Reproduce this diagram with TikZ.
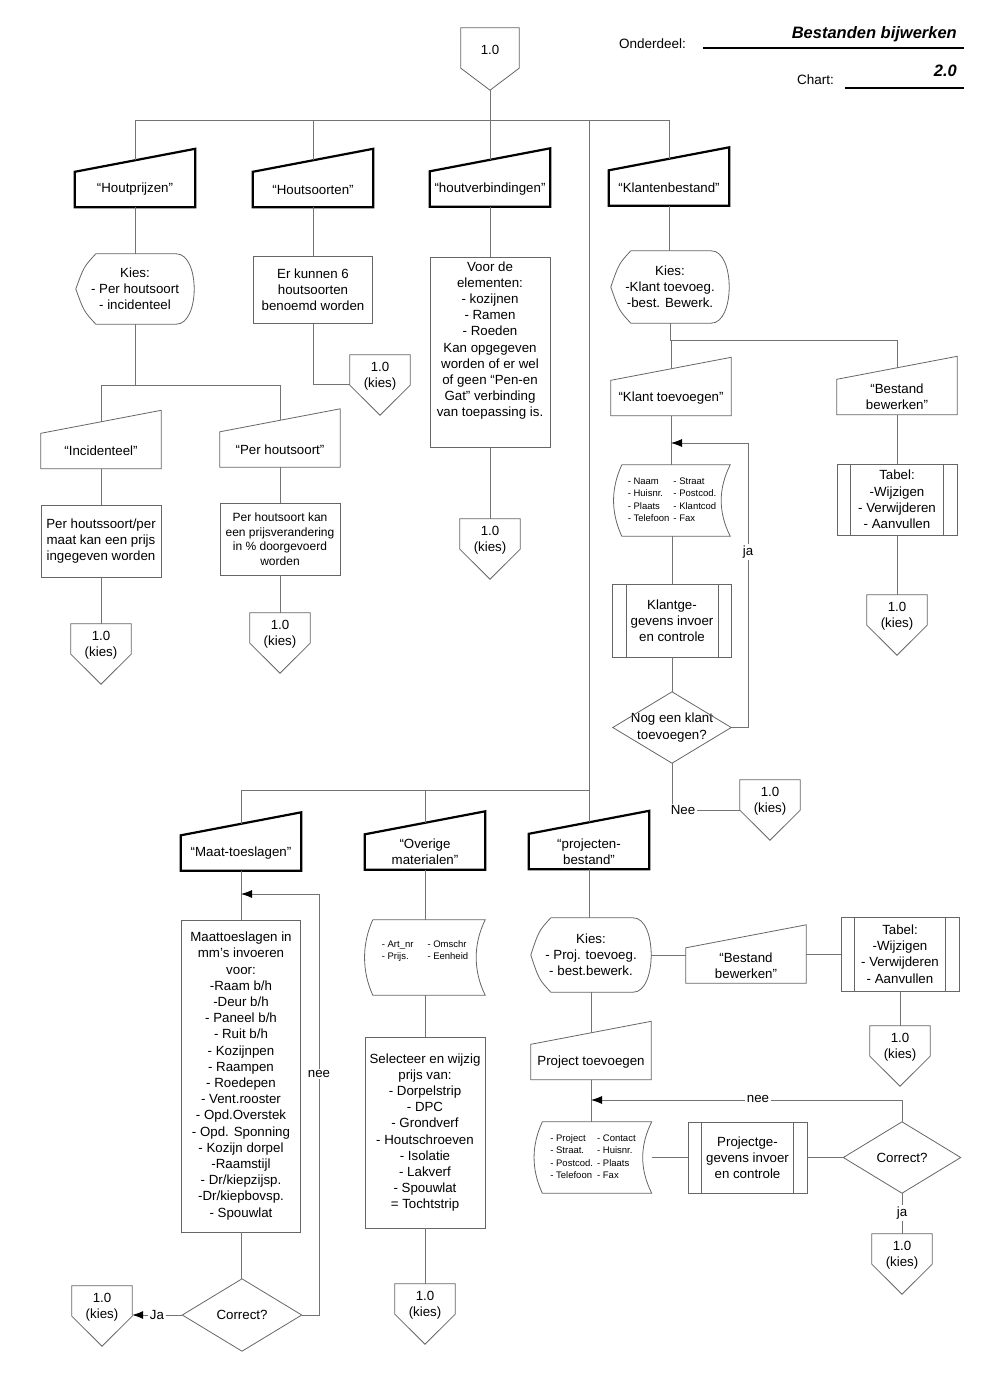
\documentclass[tikz,border=0pt]{standalone}
\usepackage{fontspec}
\setmainfont{Liberation Sans}
\usetikzlibrary{arrows.meta,calc}

\tikzset{
  plain/.style={inner sep=0pt, align=center, font=\fontsize{13.3}{16.2}\selectfont, text=black},
  txt/.style={inner sep=0pt, text=black},
  small/.style={font=\fontsize{9.5}{12.3}\selectfont},
  boxs/.style={plain, draw=black!60, line width=0.8pt},
  conn/.style={draw=black!55, line width=0.8pt},
  shapeline/.style={draw=black!60, line width=0.8pt},
  heavy/.style={draw=black, line width=2.2pt, line join=miter},
  arr/.style={conn, -{Latex[length=11pt,width=8pt,color=black]}},
  lbl/.style={plain, inner sep=1.5pt},
  lblw/.style={plain, fill=white, inner sep=1.5pt},
  hdr/.style={inner sep=0pt, font=\fontsize{13.5}{16}\selectfont},
  hdrb/.style={inner sep=0pt, font=\fontsize{16.5}{18}\selectfont\bfseries\itshape},
  hline/.style={draw=black, line width=1.3pt},
}

% manual input: name, centre, text
\newcommand\fcMI[4][shapeline]{%
  \node[plain, minimum width=120pt, minimum height=35pt] (#2) at (#3) {#4};
  \draw[#1] (#2.south west) -- (#2.north west) -- ([yshift=23pt]#2.north east) -- (#2.south east) -- cycle;
  \coordinate (#2-t) at ([yshift=11.5pt]#2.north);
}
% display shape
\newcommand\fcDISP[5]{%
  \node[plain, minimum width=#3pt, minimum height=#4pt] (#1) at (#2) {#5};
  \draw[shapeline] ([xshift=20pt]#1.north west) -- ([xshift=-18pt]#1.north east)
    .. controls ([xshift=6pt]#1.north east) and ([xshift=6pt]#1.south east) .. ([xshift=-18pt]#1.south east)
    -- ([xshift=20pt]#1.south west)
    .. controls ([xshift=8pt,yshift=13pt]#1.south west) .. (#1.west)
    .. controls ([xshift=8pt,yshift=-13pt]#1.north west) .. ([xshift=20pt]#1.north west) -- cycle;
}
% stored data shape
\newcommand\fcSD[4]{%
  \node[plain, minimum width=#3pt, minimum height=#4pt] (#1) at (#2) {};
  \draw[shapeline] ([xshift=8pt]#1.north west) -- (#1.north east)
    .. controls ([xshift=-12pt,yshift=-24pt]#1.north east) and ([xshift=-12pt,yshift=24pt]#1.south east) .. (#1.south east)
    -- ([xshift=8pt]#1.south west)
    .. controls ([xshift=-3pt,yshift=24pt]#1.south west) and ([xshift=-3pt,yshift=-24pt]#1.north west) .. ([xshift=8pt]#1.north west) -- cycle;
}
% predefined process
\newcommand\fcPP[5]{%
  \node[boxs, minimum width=#3pt, minimum height=#4pt] (#1) at (#2) {#5};
  \draw[shapeline] ([xshift=14pt]#1.north west) -- ([xshift=14pt]#1.south west);
  \draw[shapeline] ([xshift=-14pt]#1.north east) -- ([xshift=-14pt]#1.south east);
}
% decision
\newcommand\fcDIA[5]{%
  \node[plain, minimum width=#3pt, minimum height=#4pt] (#1) at (#2) {#5};
  \draw[shapeline] (#1.north) -- (#1.east) -- (#1.south) -- (#1.west) -- cycle;
}
% off-page connector 1.0 (kies)
\newcommand\fcOPC[3]{%
  \node[plain, minimum width=60pt, minimum height=42pt] (#1) at ({#2},{#3+21}) {1.0\\(kies)};
  \draw[shapeline] (#1.north west) -- (#1.north east) -- ([yshift=12pt]#1.south east) -- ([yshift=-18pt]#1.south) -- ([yshift=12pt]#1.south west) -- cycle;
}

\begin{document}
\begin{tikzpicture}[x=1pt,y=-1pt]
\fill[white] (0,0) rectangle (1000,1399);
\useasboundingbox (0,0) rectangle (1000,1399);

% ---------------- header ----------------
\node[plain, minimum width=58pt, minimum height=44pt] (top) at (490,50) {1.0};
\draw[shapeline] (top.north west) -- (top.north east) -- ([yshift=4pt]top.south east) -- ([yshift=-18pt]top.south) -- ([yshift=4pt]top.south west) -- cycle;
\coordinate (top-p) at ([yshift=-18pt]top.south);

\node[hdr, anchor=base west] (ond) at (619,49) {Onderdeel:};
\node[hdrb, anchor=base east] (ondv) at (957,39) {Bestanden bijwerken};
\draw[hline] (703,48) -- (964,48);
\node[hdr, anchor=base west] (cht) at (797,85) {Chart:};
\node[hdrb, anchor=base east] (chtv) at (957,77) {2.0};
\draw[hline] (845,88) -- (964,88);

\coordinate (busA) at (0,120);
\coordinate (busB) at (0,385);
\coordinate (busC) at (0,340);
\coordinate (busD) at (0,790);

% ---------------- top row ----------------
\fcMI[heavy]{hp}{135,189.5}{“Houtprijzen”}
\fcMI[heavy]{hs}{313,189.5}{“Houtsoorten”}
\fcMI[heavy]{hv}{490,189}{“houtverbindingen”}
\fcMI[heavy]{kb}{669,188}{“Klantenbestand”}

% Houtprijzen
\fcDISP{k1}{135,289}{118}{70}{Kies:\\- Per houtsoort\\- incidenteel}
\fcMI{inc}{101,451}{“Incidenteel”}
\fcMI{ph}{280,449.5}{“Per houtsoort”}
\node[boxs, minimum width=120pt, minimum height=72pt] (b1) at (101,541) {Per houtssoort/per\\maat kan een prijs\\ingegeven worden};
\node[boxs, font=\fontsize{12}{14.5}\selectfont, minimum width=120pt, minimum height=72pt] (b2) at (280,539) {Per houtsoort kan\\een prijsverandering\\in \% doorgevoerd\\worden};
\fcOPC{ci}{101}{624}
\fcOPC{cp}{280}{613}

% Houtsoorten
\node[boxs, minimum width=119pt, minimum height=67pt] (b3) at (313,290) {Er kunnen 6\\houtsoorten\\benoemd worden};
\fcOPC{cs}{380}{355}

% houtverbindingen
\node[boxs, minimum width=120pt, minimum height=190pt] (vb) at (490,352) {};
\node[plain] (vbtxt) at ([yshift=11.5pt]vb.center) {Voor de\\elementen:\\- kozijnen\\- Ramen\\- Roeden\\Kan opgegeven\\worden of er wel\\of geen “Pen-en\\Gat” verbinding\\van toepassing is.};
\fcOPC{cv}{490}{519}

% Klantenbestand
\fcDISP{k2}{670,287}{118}{72}{Kies:\\-Klant toevoeg.\\-best. Bewerk.}
\fcMI{kt}{671,398}{“Klant toevoegen”}
\fcMI{bbk}{897,397}{“Bestand\\bewerken”}
\fcSD{d1}{672,500.5}{116}{71}
\node[txt, small] (d1txt) at (d1.center) {\begin{tabular}{@{}l@{\hspace{4pt}}l@{}}- Naam & - Straat\\- Huisnr. & - Postcod.\\- Plaats & - Klantcod\\- Telefoon & - Fax\end{tabular}};
\fcPP{pp1}{672,620.5}{119}{73}{Klantge-\\gevens invoer\\en controle}
\fcDIA{dia1}{672,727.5}{118}{71}{Nog een klant\\toevoegen?}
\fcOPC{ck2}{770}{780}
\fcPP{tab1}{897,499.5}{120}{71}{Tabel:\\-Wijzigen\\- Verwijderen\\- Aanvullen}
\fcOPC{ct1}{897}{595}
\node[lbl] (neek) at (683,810) {Nee};

% ---------------- bottom row ----------------
\fcMI[heavy]{ma}{241,853}{“Maat-toeslagen”}
\fcMI[heavy]{ov}{425,852}{“Overige\\materialen”}
\fcMI[heavy]{pr}{589,851.5}{“projecten-\\bestand”}

% Maat-toeslagen
\node[boxs, minimum width=119pt, minimum height=312pt] (mb) at (241,1076) {Maattoeslagen in\\mm’s invoeren\\voor:\\-Raam b/h\\-Deur b/h\\- Paneel b/h\\- Ruit b/h\\- Kozijnpen\\- Raampen\\- Roedepen\\- Vent.rooster\\- Opd.Overstek\\- Opd. Sponning\\- Kozijn dorpel\\-Raamstijl\\- Dr/kiepzijsp.\\-Dr/kiepbovsp.\\- Spouwlat};
\fcDIA{dia2}{242,1315}{119}{72}{Correct?}
\fcOPC{cm}{102}{1286}
\node[lbl] (jam) at (157,1315) {Ja};

% Overige materialen
\fcSD{d2}{425,957.5}{120}{75}
\node[txt, small] (d2txt) at ([yshift=6.5pt]d2.center) {\begin{tabular}{@{}l@{\hspace{14pt}}l@{}}- Art\_nr & - Omschr\\- Prijs. & - Eenheid\end{tabular}};
\node[boxs, minimum width=120pt, minimum height=191pt] (sb) at (425,1132.5) {Selecteer en wijzig\\prijs van:\\- Dorpelstrip\\- DPC\\- Grondverf\\- Houtschroeven\\- Isolatie\\- Lakverf\\- Spouwlat\\= Tochtstrip};
\fcOPC{co}{425}{1284}

% projecten-bestand
\fcDISP{k3}{591,955}{120}{74}{Kies:\\- Proj. toevoeg.\\- best.bewerk.}
\fcMI{bbp}{746,965.5}{“Bestand\\bewerken”}
\fcPP{tab2}{900,954}{118}{74}{Tabel:\\-Wijzigen\\- Verwijderen\\- Aanvullen}
\fcOPC{ct2}{900}{1026}
\fcMI{pt}{591,1062}{Project toevoegen}
\fcSD{d3}{593,1157.5}{117}{71}
\node[txt, small] (d3txt) at (d3.center) {\begin{tabular}{@{}l@{\hspace{4pt}}l@{}}- Project & - Contact\\- Straat. & - Huisnr.\\- Postcod. & - Plaats\\- Telefoon & - Fax\end{tabular}};
\fcPP{pp2}{747.5,1157.5}{119}{71}{Projectge-\\gevens invoer\\en controle}
\fcDIA{dia3}{902,1157.5}{117}{71}{Correct?}
\fcOPC{c3}{902}{1234}

% ---------------- connectors ----------------
\draw[conn] (top-p) -- (top-p |- hv-t);
\draw[conn] (hp-t |- busA) -- (kb-t |- busA);
\draw[conn] (hp-t |- busA) -- (hp-t);
\draw[conn] (hs-t |- busA) -- (hs-t);
\draw[conn] (kb-t |- busA) -- (kb-t);
\draw[conn] (pr-t |- busA) -- (pr-t);

% tree Houtprijzen
\draw[conn] (hp.south) -- (hp.south |- k1.north);
\draw[conn] (k1.south) -- (k1.south |- busB);
\draw[conn] (inc-t |- busB) -- (ph-t |- busB);
\draw[conn] (inc-t |- busB) -- (inc-t);
\draw[conn] (ph-t |- busB) -- (ph-t);
\draw[conn] (inc.south) -- (inc.south |- b1.north);
\draw[conn] (b1.south) -- (b1.south |- ci.north);
\draw[conn] (ph.south) -- (ph.south |- b2.north);
\draw[conn] (b2.south) -- (b2.south |- cp.north);

% tree Houtsoorten
\draw[conn] (hs.south) -- (hs.south |- b3.north);
\draw[conn] (b3.south) |- ([yshift=-8pt]cs.west);

% tree houtverbindingen
\draw[conn] (hv.south) -- (hv.south |- vb.north);
\draw[conn] (vb.south) -- (vb.south |- cv.north);

% tree Klantenbestand
\draw[conn] (kb.south) -- (kb.south |- k2.north);
\draw[conn] (k2.south) -- (k2.south |- busC);
\draw[conn] (k2.south |- busC) -- (bbk-t |- busC);
\draw[conn] (kt-t |- busC) -- (kt-t);
\draw[conn] (bbk-t |- busC) -- (bbk-t);
\draw[conn] (kt.south) -- (kt.south |- d1.north);
\draw[conn] (d1.south) -- (d1.south |- pp1.north);
\draw[conn] (pp1.south) -- (pp1.south |- dia1.north);
\coordinate (loopK) at (748,443);
\draw[conn] (dia1.east) -| (loopK);
\draw[arr] (loopK) -- (loopK -| kt.south);
\draw[conn] (dia1.south) -- (dia1.south |- neek.north);
\draw[conn] (neek.east) -- (neek.east -| ck2.west);
\draw[conn] (bbk.south) -- (bbk.south |- tab1.north);
\draw[conn] (tab1.south) -- (tab1.south |- ct1.north);

% bus bottom
\draw[conn] (ma-t |- busD) -- (pr-t |- busD);
\draw[conn] (ma-t |- busD) -- (ma-t);
\draw[conn] (ov-t |- busD) -- (ov-t);

% Maat
\draw[conn] (ma.south) -- (ma.south |- mb.north);
\draw[conn] (mb.south) -- (mb.south |- dia2.north);
\coordinate (loopM) at (319,894);
\draw[conn] (dia2.east) -| (loopM);
\draw[arr] (loopM) -- (loopM -| ma.south);
\draw[conn] (dia2.west) -- (jam.east);
\draw[arr] (jam.west) -- (jam.west -| cm.east);

% Overige
\draw[conn] (ov.south) -- (ov.south |- d2.north);
\draw[conn] (d2.south) -- (d2.south |- sb.north);
\draw[conn] (sb.south) -- (sb.south |- co.north);

% projecten
\draw[conn] (pr.south) -- (pr.south |- k3.north);
\draw[conn] (k3.east) -- (k3.east -| bbp.west);
\draw[conn] (bbp.east |- tab2.west) -- (tab2.west);
\draw[conn] (tab2.south) -- (tab2.south |- ct2.north);
\draw[conn] (k3.south) -- (k3.south |- pt-t);
\draw[conn] (pt.south) -- (pt.south |- d3.north);
\draw[conn] (d3.east) -- (pp2.west);
\draw[conn] (pp2.east) -- (dia3.west);
\coordinate (loopP) at (902,1100);
\draw[arr] (dia3.north) -- (loopP) -- (loopP -| pt.south);
\draw[conn] (dia3.south) -- (c3.north);

% labels sitting on lines
\node[lblw] (jak) at (748,552) {ja};
\node[lblw] (neem) at (319,1074) {nee};
\node[lblw] (neep) at (758,1099) {nee};
\node[lblw] (jap) at (902,1213) {ja};

\end{tikzpicture}
\end{document}
